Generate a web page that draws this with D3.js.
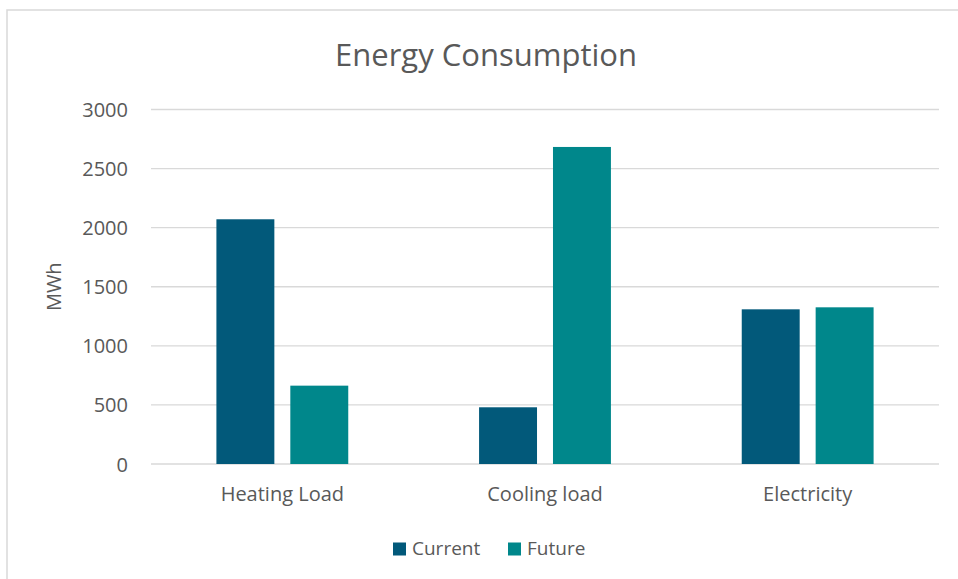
<!DOCTYPE html>
<html>
<head>
<meta charset="utf-8">
<script src="https://cdn.jsdelivr.net/npm/d3@7"></script>
<style>
  html, body { margin: 0; padding: 0; background: #ffffff; }
  svg { display: block; }
  text { font-family: "Open Sans", "Noto Sans", sans-serif; fill: #595959; }
</style>
</head>
<body>
<svg id="chart" width="958" height="579"></svg>
<script>
// Chart data
const categories = ["Heating Load", "Cooling load", "Electricity"];
const seriesNames = ["Current", "Future"];
const currentValues = [2071, 480, 1309];
const futureValues = [663, 2683, 1326];
const yTicks = [0, 500, 1000, 1500, 2000, 2500, 3000];
const seriesColors = ["#02597a", "#00878b"];

const seriesValues = [currentValues, futureValues];

const svg = d3.select("#chart");
const W = 958, H = 579;
const plot = { left: 151, right: 939, top: 109.5, bottom: 464 };

// Outer chart frame
svg.append("rect")
  .attr("x", 7).attr("y", 10)
  .attr("width", W + 20).attr("height", H + 20)
  .attr("fill", "#ffffff")
  .attr("stroke", "#d9d9d9")
  .attr("stroke-width", 1.5);

// Scales
const x0 = d3.scaleBand()
  .domain(categories)
  .range([plot.left, plot.right])
  .paddingInner(0)
  .paddingOuter(0);

const x1 = d3.scaleBand()
  .domain(seriesNames)
  .range([0, x0.bandwidth()])
  .paddingInner(0.216)
  .paddingOuter(0.885);

const y = d3.scaleLinear()
  .domain([0, 3000])
  .range([plot.bottom, plot.top]);

// Gridlines
svg.append("g")
  .selectAll("line")
  .data(yTicks)
  .join("line")
  .attr("x1", plot.left)
  .attr("x2", plot.right)
  .attr("y1", d => y(d))
  .attr("y2", d => y(d))
  .attr("stroke", "#d9d9d9")
  .attr("stroke-width", 1.3);

// Y axis labels
const yAxis = d3.axisLeft(y).tickValues(yTicks).tickFormat(d3.format("d")).tickSize(0).tickPadding(0);
const yG = svg.append("g")
  .attr("transform", `translate(128,0)`)
  .call(yAxis);
yG.select(".domain").remove();
yG.selectAll("text")
  .attr("font-size", 20)
  .attr("font-family", "'Open Sans', sans-serif")
  .attr("fill", "#595959")
  .attr("dy", "0.35em");

// Y axis title
svg.append("text")
  .attr("transform", `translate(61,${(plot.top + plot.bottom) / 2}) rotate(-90)`)
  .attr("text-anchor", "middle")
  .attr("font-size", 20)
  .text("MWh");

// Bars
const groups = svg.append("g")
  .selectAll("g")
  .data(categories)
  .join("g")
  .attr("transform", d => `translate(${x0(d)},0)`);

groups.selectAll("rect")
  .data((c, i) => seriesNames.map((s, j) => ({ series: s, value: seriesValues[j][i], color: seriesColors[j] })))
  .join("rect")
  .attr("x", d => x1(d.series))
  .attr("width", x1.bandwidth())
  .attr("y", d => y(d.value))
  .attr("height", d => y(0) - y(d.value))
  .attr("fill", d => d.color);

// Category labels
const xAxis = d3.axisBottom(x0).tickSize(0).tickPadding(0);
const xG = svg.append("g")
  .attr("transform", `translate(0,${plot.bottom})`)
  .call(xAxis);
xG.select(".domain").remove();
xG.selectAll("text")
  .attr("font-size", 20)
  .attr("font-family", "'Open Sans', sans-serif")
  .attr("fill", "#595959")
  .attr("dy", 0)
  .attr("y", 36.5);

// Title
svg.append("text")
  .attr("x", 486)
  .attr("y", 66)
  .attr("text-anchor", "middle")
  .attr("font-size", 31)
  .text("Energy Consumption");

// Legend
const legendItems = [
  { name: seriesNames[0], color: seriesColors[0], x: 393 },
  { name: seriesNames[1], color: seriesColors[1], x: 508 }
];
const legend = svg.append("g");
legendItems.forEach(item => {
  legend.append("rect")
    .attr("x", item.x).attr("y", 542.5)
    .attr("width", 13).attr("height", 13)
    .attr("fill", item.color);
  legend.append("text")
    .attr("x", item.x + 19)
    .attr("y", 555)
    .attr("font-size", 19)
    .text(item.name);
});
</script>
</body>
</html>
